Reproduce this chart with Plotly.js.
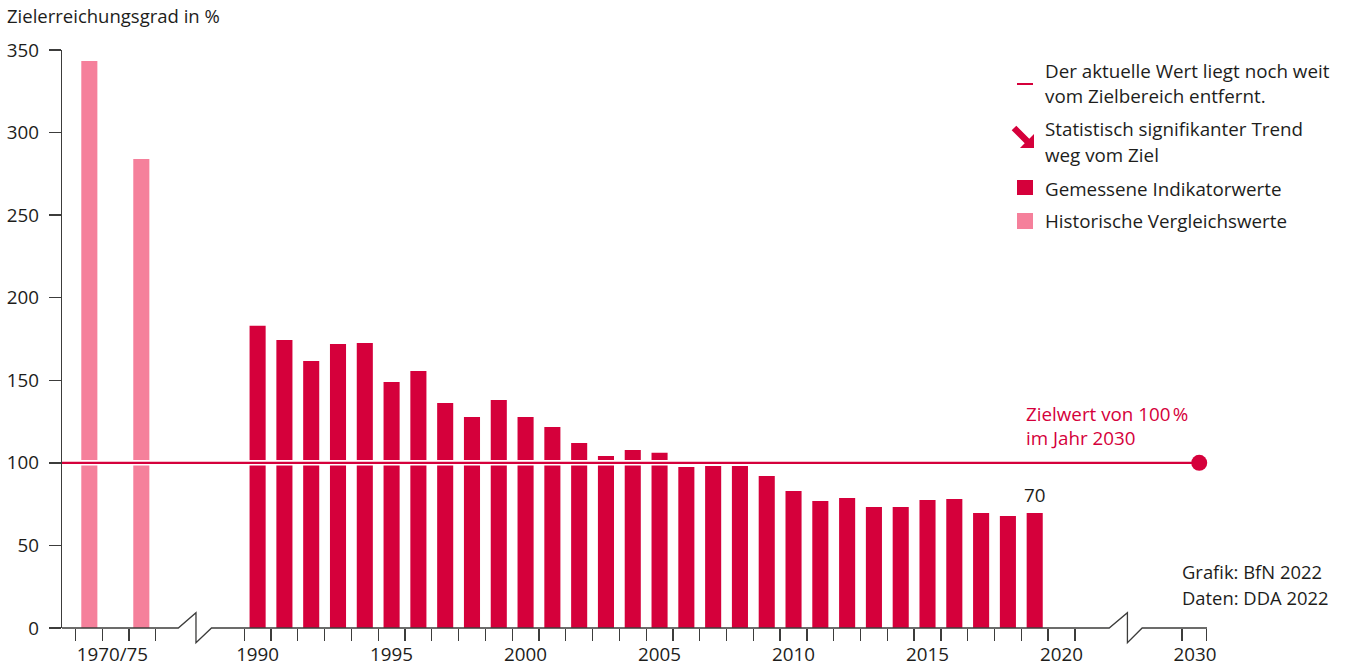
<!DOCTYPE html>
<html>
<head>
<meta charset="utf-8">
<script src="https://cdn.plot.ly/plotly-3.0.1.min.js"></script>
<style>
html,body{margin:0;padding:0;background:#fff;}
#chart{width:1347px;height:669px;}
</style>
</head>
<body>
<div id="chart"></div>
<script>
// ---------- data ----------
const histYears = [1970, 1975];
const histValues = [343.3, 284.0];
const years = [1990, 1991, 1992, 1993, 1994, 1995, 1996, 1997, 1998, 1999,
               2000, 2001, 2002, 2003, 2004, 2005, 2006, 2007, 2008, 2009,
               2010, 2011, 2012, 2013, 2014, 2015, 2016, 2017, 2018, 2019];
const values = [183.0, 174.4, 161.7, 172.0, 172.6, 149.0, 155.6, 136.2, 127.8, 138.1,
                127.8, 121.7, 112.0, 104.2, 107.8, 106.1, 97.5, 98.1, 98.1, 92.0,
                83.0, 76.9, 78.7, 73.3, 73.3, 77.5, 78.1, 69.6, 67.8, 69.6];
const targetYear = 2030;
const targetValue = 100;
const xTickLabels = ['1970/75', '1990', '1995', '2000', '2005', '2010', '2015', '2020', '2030'];
const xTickYears = [1972.5, 1990, 1995, 2000, 2005, 2010, 2015, 2020, 2030];
const yTickValues = [0, 50, 100, 150, 200, 250, 300, 350];

const legendTexts = [
  'Der aktuelle Wert liegt noch weit', 'vom Zielbereich entfernt.',
  'Statistisch signifikanter Trend', 'weg vom Ziel',
  'Gemessene Indikatorwerte', 'Historische Vergleichswerte'
];
const targetTexts = ['Zielwert von 100\u202F%', 'im Jahr 2030'];
const sourceTexts = ['Grafik: BfN 2022', 'Daten: DDA 2022'];

// ---------- styling ----------
const RED = '#D5003B';
const PINK = '#F5809B';
const AXIS = '#3c3c3b';
const TXT = '#1d1d1b';
const FONT = 'Open Sans, sans-serif';

// broken x axis: position of a year on the axis
function pos(year) {
  if (year <= 1975) return 1983.72 + (year - 1970) * 0.388; // historical block
  if (year <= 2021) return year;                            // continuous block
  return year - 4.86;                                       // after the break
}
function labelPos(year) {
  if (year < 1980) return 1984.58;
  if (year > 2021) return year - 5.02;
  return year;
}

const X0 = 1982.70, X1 = 2025.43;
const ML = 62, MR = 140, MT = 50, MB = 41;
const W = 1347, H = 669;
const PW = W - ML - MR, PH = H - MT - MB;
const px = v => (v - ML) / PW;          // pixel -> paper x
const py = v => (H - MB - v) / PH;      // pixel -> paper y

// tick boundaries
const tickBounds = [1983.2, 1984.2, 1985.2, 1986.2];
for (let y = 1989.5; y <= 2020.5; y += 1) tickBounds.push(y);
tickBounds.push(2024.5, 2025.42);

// axis line with breaks
const up = 15.3 / PH, dn = 14.7 / PH;
const axisPath = `M ${X0},0 L 1987.04,0 L 1987.70,${up} L 1987.70,${-dn} L 1988.28,0 ` +
                 `L 2021.78,0 L 2022.46,${up} L 2022.46,${-dn} L 2023.01,0 L ${X1},0`;

// legend arrow (pixels)
const arrowPts = [[1011.7,130.3],[1016.3,125.7],[1029.3,138.7],[1034,134],[1034,148],[1020,148],[1024.7,143.3]];
const arrowPath = 'M ' + arrowPts.map(p => `${px(p[0])},${py(p[1])}`).join(' L ') + ' Z';

const traces = [
  {type:'bar', x: histYears.map(pos), y: histValues, width: 0.6,
   marker:{color: PINK}, hoverinfo:'skip'},
  {type:'bar', x: years.map(pos), y: values, width: 0.6,
   marker:{color: RED}, hoverinfo:'skip'},
  {type:'scatter', mode:'lines', x:[X0, pos(targetYear)], y:[targetValue, targetValue],
   line:{color:'#ffffff', width:5.5}, hoverinfo:'skip'},
  {type:'scatter', mode:'lines', x:[X0, pos(targetYear)], y:[targetValue, targetValue],
   line:{color: RED, width:2.3}, hoverinfo:'skip'},
  {type:'scatter', mode:'markers', x:[pos(targetYear)], y:[targetValue],
   marker:{color: RED, size:16}, cliponaxis:false, hoverinfo:'skip'},
  {type:'scatter', mode:'markers', x:[X0], y:[0], xaxis:'x2', yaxis:'y',
   marker:{opacity:0}, hoverinfo:'skip'}
];

const ann = [];
function txt(text, xp, yp, opts) {
  ann.push(Object.assign({text, x: px(xp), y: py(yp), xref:'paper', yref:'paper',
    xanchor:'left', yanchor:'middle', showarrow:false,
    font:{family: FONT, size:18.8, color: TXT}}, opts || {}));
}
const legendY = [70.8, 96.3, 129.3, 155.3, 188.7, 221.3];
legendTexts.forEach((t, i) => txt(t, 1043, legendY[i]));
txt(targetTexts[0], 1024, 414, {font:{family:FONT, size:18.8, color:RED}});
txt(targetTexts[1], 1024, 438, {font:{family:FONT, size:18.8, color:RED}});
txt(sourceTexts[0], 1180, 571.7, {font:{family:FONT, size:18.4, color:TXT}});
txt(sourceTexts[1], 1180, 597, {font:{family:FONT, size:18.4, color:TXT}});
ann.push({text: String(Math.round(values[values.length-1])), x: pos(years[years.length-1]),
  y: values[values.length-1], xref:'x', yref:'y', xanchor:'center', yanchor:'bottom',
  yshift: 3, showarrow:false, font:{family:FONT, size:18.8, color:TXT}});

const shapes = [
  {type:'path', xref:'x', yref:'paper', path: axisPath, line:{color: AXIS, width:1.3}},
  {type:'line', xref:'paper', yref:'paper', x0: px(1017), x1: px(1033), y0: py(84), y1: py(84),
   line:{color: RED, width:2}},
  {type:'path', xref:'paper', yref:'paper', path: arrowPath, fillcolor: RED, line:{width:0}},
  {type:'rect', xref:'paper', yref:'paper', x0: px(1017), x1: px(1033), y0: py(195), y1: py(180),
   fillcolor: RED, line:{width:0}},
  {type:'rect', xref:'paper', yref:'paper', x0: px(1017), x1: px(1033), y0: py(229), y1: py(213),
   fillcolor: PINK, line:{width:0}}
];

const layout = {
  width: W, height: H,
  margin:{l: ML, r: MR, t: MT, b: MB, pad: 0},
  paper_bgcolor:'#ffffff', plot_bgcolor:'#ffffff',
  font:{family: FONT, size:18, color: TXT},
  showlegend:false,
  barmode:'overlay',
  title:{text:'Zielerreichungsgrad in %', xref:'container', yref:'container',
         x: 7/W, xanchor:'left', y: 1 - 17/H, yanchor:'middle',
         font:{family: FONT, size:18.5, color: TXT}},
  xaxis:{range:[X0, X1], showgrid:false, zeroline:false, showline:false,
         tickmode:'array', tickvals: tickBounds, ticks:'outside', ticklen:12, tickwidth:1.3,
         tickcolor: AXIS, showticklabels:false, fixedrange:true},
  xaxis2:{range:[X0, X1], overlaying:'x', anchor:'y', side:'bottom', showgrid:false,
          zeroline:false, showline:false, tickmode:'array', tickvals: xTickYears.map(labelPos),
          ticktext: xTickLabels, ticks:'outside', ticklen:9, tickcolor:'rgba(0,0,0,0)',
          tickfont:{family: FONT, size:18.8, color: TXT}, fixedrange:true},
  yaxis:{range:[0, 350], tickmode:'array', tickvals: yTickValues, ticks:'outside', ticklen:12,
         tickwidth:1.3, tickcolor: AXIS, showline:true, linecolor: AXIS, linewidth:1.3,
         showgrid:false, zeroline:false, ticklabelstandoff: 6,
         tickfont:{family: FONT, size:18.8, color: TXT}, fixedrange:true},
  shapes: shapes,
  annotations: ann
};

Plotly.newPlot('chart', traces, layout, {staticPlot:true, displayModeBar:false});
</script>
</body>
</html>
